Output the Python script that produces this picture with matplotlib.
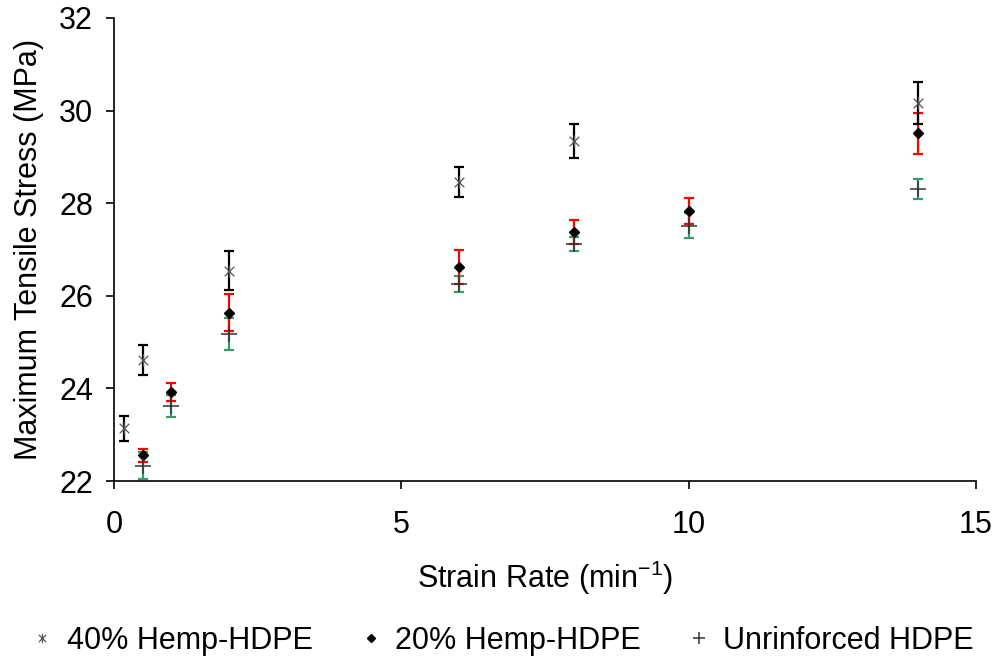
import matplotlib.pyplot as plt
from matplotlib.path import Path

plt.rcParams['font.family'] = ['Liberation Sans', 'DejaVu Sans']

# 40% hemp-HDPE
x40 = [0.17, 0.5, 2, 6, 8, 14]
y40 = [23.14, 24.61, 26.54, 28.46, 29.34, 30.16]
e40 = [0.27, 0.33, 0.42, 0.33, 0.37, 0.45]

# 20% hemp-HDPE
x20 = [0.5, 1, 2, 6, 8, 10, 14]
y20 = [22.56, 23.92, 25.63, 26.62, 27.38, 27.83, 29.51]
e20 = [0.14, 0.2, 0.4, 0.37, 0.26, 0.28, 0.44]

# unreinforced HDPE
xu = [0.5, 1, 2, 6, 8, 10, 14]
yu = [22.33, 23.62, 25.18, 26.25, 27.12, 27.51, 28.3]
eu = [0.29, 0.24, 0.35, 0.17, 0.16, 0.27, 0.22]

# star marker: an x with a vertical stroke
star = Path([(-1, -1), (1, 1), (-1, 1), (1, -1), (0, -1.3), (0, 1.3)],
            [Path.MOVETO, Path.LINETO, Path.MOVETO, Path.LINETO, Path.MOVETO, Path.LINETO])

fig = plt.figure(figsize=(9.97, 6.61), dpi=100)
ax = fig.add_axes([0.1143, 0.2723, 0.8646, 0.7005])

eb = dict(fmt='none', elinewidth=1.6, capsize=3.5, capthick=1.6)
ax.errorbar(xu, yu, yerr=eu, ecolor='#3a9a6a', **eb)
ax.errorbar(x20, y20, yerr=e20, ecolor='#ff0000', **eb)
ax.errorbar(x40, y40, yerr=e40, ecolor='black', **eb)

ax.plot(x40, y40, linestyle='none', marker=star, markersize=9, markeredgewidth=0.9,
        color='#555555', label='40% Hemp-HDPE')
ax.plot(x20, y20, linestyle='none', marker='D', markersize=5.5,
        color='black', label='20% Hemp-HDPE')
ax.plot(xu, yu, linestyle='none', marker='+', markersize=11, markeredgewidth=1.1,
        color='#333333', label='Unrinforced HDPE')

ax.set_xlim(0, 15)
ax.set_ylim(22, 32)
ax.set_xticks([0, 5, 10, 15])
ax.set_yticks([22, 24, 26, 28, 30, 32])
ax.tick_params(labelsize=22, length=6, width=1.2, direction='out')
ax.tick_params(axis='x', pad=15)
ax.tick_params(axis='y', pad=9)
ax.spines['top'].set_visible(False)
ax.spines['right'].set_visible(False)
for s in ('left', 'bottom'):
    ax.spines[s].set_linewidth(1.2)

ax.set_xlabel(r'Strain Rate (min$^{\mathregular{-1}}$)', fontsize=22, labelpad=13)
ax.set_ylabel('Maximum Tensile Stress (MPa)', fontsize=22, labelpad=11)

fig.legend(loc='center', bbox_to_anchor=(0.505, 0.03), ncol=3, fontsize=22,
           frameon=False, handlelength=0.6, handletextpad=0.5, columnspacing=1.6,
           markerscale=0.75)

fig.savefig('out.png', dpi=100)
